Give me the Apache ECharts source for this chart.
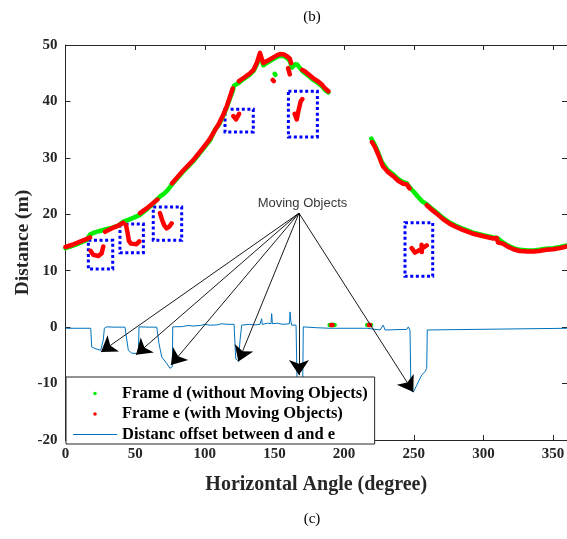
<!DOCTYPE html>
<html><head><meta charset="utf-8">
<script src="https://cdn.jsdelivr.net/npm/echarts@6/dist/echarts.min.js"></script>
<style>html,body{margin:0;padding:0;background:#fff}#c{width:567px;height:539px}</style>
</head><body><div id="c"></div>
<script>
// ---- data (angle in degrees, distance in m); null = gap ----
const frameDPoints = [[0,14.0],[5,14.4],[10,14.9],[15,15.4],[17.6,16.4],[20,16.7],[24,17.0],[28.4,17.3],[33,17.6],[38,18.0],[41.5,18.7],[45,19.0],[49,19.4],[53.5,19.9],[58,20.8],[63,21.9],[66,22.7],[68,23.2],[70,23.5],[73,24.2],[76.5,25.3],[80,26.3],[85,27.7],[91.7,29.4],[96,30.7],[101.4,32.4],[104,33.2],[107.3,35.0],[110,35.8],[113,37.3],[115.7,38.9],[118,40.5],[120,41.8],[121,42.8],[122,43.0],[124.5,43.3],[128,44.0],[132.5,44.8],[135,45.4],[137.3,46.5],[139.6,48.0],[141,47.2],[142,46.4],[145,46.9],[149.2,47.5],[152,47.9],[154,48.1],[157,48.0],[159,47.7],[161,47.2],[162.5,46.0],[163.5,45.8],[165,46.6],[166.5,46.5],[168,46.0],[170,45.4],[172,45.0],[175,44.4],[177.9,43.8],[181,43.3],[184,42.7],[186,42.1],[188.7,41.6],null,[189.6,0.4],[193.2,0.4],null,[216.6,0.4],[219.4,0.4],null,[150.2,44.9],[150.7,44.7],null,[219.5,33.4],[222,32.3],[224.5,30.9],[227,29.3],[229,28.6],[231,27.9],[233,27.5],[236,26.9],[239,26.2],[242.5,25.7],[245,25.5],[247,24.8],[250,24.0],[253,23.1],[256,22.3],[259.3,21.8],[262,21.2],[266,20.4],[271.2,19.3],[276,18.5],[280,18.0],[285.6,17.4],[292,16.8],[300,16.3],[307.1,15.9],[310,15.8],[314,15.0],[318,14.4],[321.5,14.0],[326,13.7],[332,13.6],[336,13.6],[340,13.7],[345,13.9],[350,14.0],[355,14.2],[360,14.5]];

const frameEPoints = [[0,14.2],[5,14.6],[10,15.1],[15,15.6],[17.6,15.9],null,[28.4,16.9],[33,17.5],[38,18.0],[41.5,18.5],null,[53.5,20.2],[58,21.0],[63,22.0],[66,22.6],null,[76.5,25.5],[80,26.5],[85,27.9],[91.7,29.6],[96,30.9],[101.4,32.6],[104,33.5],[107.3,34.9],[110,36.0],[113,37.5],[115.7,39.1],[118,40.8],[120,42.3],null,[124.5,43.6],[128,44.2],[132.5,45.0],[135,45.6],[137.3,46.8],[139.6,48.6],[141,47.5],[142,46.8],[145,47.2],[149.2,47.8],[152,48.2],[154,48.4],[157,48.3],[159,48.0],[161,47.6],[162,46.8],null,[170,45.6],[172,45.3],[175,44.7],[177.9,44.1],[181,43.6],[184,43.0],[186,42.4],[188.7,41.8],null,[220,32.8],[222,32.0],[224.5,30.6],[227,29.0],[228.2,28.4],[231,27.6],[233,27.2],[236,26.6],[239,25.9],[242.5,25.4],[245,25.3],[247,24.6],null,[259.3,21.6],[262,21.0],[266,20.2],[271.2,19.1],[276,18.3],[280,17.8],[285.6,17.2],[292,16.6],[300,16.1],[307.1,15.7],[309.5,15.8],[310.5,15.0],[314,14.8],[318,14.2],[321.5,13.8],[326,13.5],[332,13.4],[336,13.4],[340,13.5],[345,13.7],[350,13.8],[355,14.0],[360,14.3]];

const movingObjectPoints = [[18.1,13.5],[20,12.8],[23.6,12.6],[26,13.1],[27.1,14.3],null,[43.4,18.1],[44.5,16.8],[45.5,15.3],[47,14.8],[51,14.7],[53,15.2],null,[67.8,20.2],[69.5,18.9],[71,18.0],[72.6,17.5],[74.5,17.8],[76.2,18.4],null,[120.5,37.4],[122.4,36.8],[124.6,37.8],null,[164.5,37.8],[166,36.8],[167.2,38.3],[168.8,40.0],[170,40.4],null,[248.5,14.0],[250.9,13.2],[254.5,13.7],[256.9,14.1],[259.3,14.5],null,[255.6,14.6],[255.8,13.3],null,[159.8,45.9],[161,44.8],null,[148.8,43.8],[149.5,43.6],null,[190.8,0.4],[191.6,0.4],null,[217.8,0.4],[218.6,0.4]];

const offsetPoints = [[0,-0.2],[18.1,-0.2],[18.8,-3.5],[21.2,-3.8],[25.3,-4.1],[27.1,-2.3],[27.9,-0.2],[29.6,0.05],[35,0.0],[42.7,0],[45.1,-4.1],[47.5,-4.6],[52.3,-4.7],[52.8,0.05],[60,0.0],[65.5,0],[67.1,-2.9],[69.1,-5.3],[72.6,-6.4],[75.0,-7.3],[76.7,-7.0],[77.0,0.05],[84,0.1],[88,0.3],[91.7,0.2],[97,0.3],[100,0.5],[103.7,0.35],[109,0.4],[112,0.6],[115.7,0.5],[121,0.5],[122.2,-5.6],[124.1,-6.0],[125.3,-2.3],[126.5,0.35],[132,0.5],[136,0.4],[139.6,0.5],[140.8,1.5],[141.2,0.5],[145,0.7],[147.5,0.6],[148.0,2.4],[148.5,0.6],[152,0.7],[156,0.5],[160.8,0.6],[161.2,2.7],[161.8,1.0],[162.4,0.35],[165.5,0.35],[166.2,-9.4],[170.3,-9.4],[170.7,0.05],[180,-0.1],[189.9,-0.2],[216.2,-0.2],[225.8,-0.5],[228.1,0.35],[229.4,-0.5],[244.9,-0.4],[246.1,0.05],[247.3,-0.6],[248,-11.2],[249.7,-11.5],[252.1,-10.3],[254.5,-9.1],[255.7,-8.5],[258.1,-7.9],[259.3,-7.3],[259.7,-0.5],[260.4,-0.2],[360,-0.2]];

const movingBoxes = [[[16.4,15.4],[33.9,10.3]],[[39.1,18.3],[55.9,13.2]],[[63.0,21.3],[83.4,15.4]],[[114.5,38.6],[134.8,34.6]],[[160.0,41.8],[180.8,33.7]],[[243.7,18.5],[263.6,9.0]]];

const arrowSource = [167.6, 20.2];
const arrowTips = [[25.5,-4.4],[50.6,-4.9],[75.7,-6.7],[124.1,-6.1],[167.6,-8.5],[249.7,-11.5]];
const movingLabel = 'Moving Objects';
const movingLabelPos = [170.1, 22.0];

const seriesNames = ['Frame d (without Moving Objects)', 'Frame e (with Moving Objects)', 'Distanc offset between d and e'];
const xTickInfo = {min: 0, max: 360, interval: 50};
const yTickInfo = {min: -20, max: 50, interval: 10};

// ---- chart ----
const chart = echarts.init(document.getElementById('c'), null, {renderer: 'canvas'});
const toData = pts => pts.map(p => p ? p : ['-', '-']);
const serif = 'Liberation Serif';
const axisColor = '#262626';
const labelStyle = {fontFamily: serif, fontWeight: 'bold', fontSize: 15, color: '#262626'};
const nameStyle = {fontFamily: serif, fontWeight: 'bold', fontSize: 20, color: '#262626'};

const baseAxis = (extra) => Object.assign({
  type: 'value',
  nameMoveOverlap: false,
  axisLine: {show: true, onZero: false, lineStyle: {color: axisColor, width: 1}},
  axisTick: {show: true, inside: true, length: 5, lineStyle: {color: axisColor, width: 1}},
  splitLine: {show: false}
}, extra);

const option = {
  animation: false,
  backgroundColor: '#fff',
  grid: {left: 65.5, right: 0, top: 45, bottom: 99, containLabel: false, outerBoundsMode: 'none'},
  xAxis: [
    baseAxis(Object.assign({}, xTickInfo, {position: 'bottom', name: 'Horizontal Angle (degree)', nameLocation: 'middle', nameGap: 35, nameTextStyle: nameStyle,
      axisLabel: Object.assign({margin: 7, showMaxLabel: false}, labelStyle)})),
    baseAxis(Object.assign({}, xTickInfo, {position: 'top', axisLabel: {show: false}}))
  ],
  yAxis: [
    baseAxis(Object.assign({}, yTickInfo, {position: 'left', name: 'Distance (m)', nameLocation: 'middle', nameGap: 33, nameTextStyle: Object.assign({}, nameStyle, {fontSize: 19.5}),
      axisLabel: Object.assign({margin: 8}, labelStyle)})),
    baseAxis(Object.assign({}, yTickInfo, {position: 'right', axisLabel: {show: false}}))
  ],
  legend: {
    left: 66, top: 377, orient: 'vertical', selectedMode: false,
    itemWidth: 44, itemHeight: 3.5, itemGap: 3.5,
    padding: [8, 7, 1, 7],
    backgroundColor: '#fff', borderColor: axisColor, borderWidth: 1, borderRadius: 0,
    textStyle: {fontFamily: serif, fontWeight: 'bold', fontSize: 16.5, color: '#000', lineHeight: 16},
    data: [
      {name: seriesNames[0], icon: 'circle', itemStyle: {color: '#00ee00', borderWidth: 0}},
      {name: seriesNames[1], icon: 'circle', itemStyle: {color: '#ff0000', borderWidth: 0}},
      {name: seriesNames[2], icon: 'path://M0 0H440V12H0Z', itemStyle: {color: '#0072BD', borderWidth: 0}}
    ]
  },
  graphic: [
    {type: 'text', x: 312, y: 17, style: {text: '(b)', fontFamily: serif, fontSize: 15, fill: '#000', textAlign: 'center', textVerticalAlign: 'middle'}},
    {type: 'text', x: 312, y: 519, style: {text: '(c)', fontFamily: serif, fontSize: 15, fill: '#000', textAlign: 'center', textVerticalAlign: 'middle'}}
  ],
  series: [
    {name: seriesNames[2], type: 'line', data: toData(offsetPoints), symbol: 'none', showSymbol: false,
      color: '#0072BD', lineStyle: {color: '#0072BD', width: 1}, z: 2, silent: true},
    {name: seriesNames[0], type: 'line', data: toData(frameDPoints), symbol: 'none', showSymbol: false, connectNulls: false,
      color: '#00ee00', lineStyle: {color: '#00ee00', width: 4.5, cap: 'round', join: 'round'}, z: 3, silent: true},
    {name: seriesNames[1], type: 'line', data: toData(frameEPoints.concat([null], movingObjectPoints)), symbol: 'none', showSymbol: false, connectNulls: false,
      color: '#ff0000', lineStyle: {color: '#ff0000', width: 4.5, cap: 'round', join: 'round'}, z: 4, silent: true,
      markArea: {silent: true, label: {show: false},
        itemStyle: {color: 'rgba(0,0,0,0)', borderColor: '#0000ff', borderWidth: 3, borderType: [3, 2.6]},
        data: movingBoxes.map(b => [{coord: b[0]}, {coord: b[1]}])}},
    {type: 'lines', coordinateSystem: 'cartesian2d', xAxisIndex: 0, yAxisIndex: 0, silent: true, z: 5,
      symbol: ['none', 'arrow'], symbolSize: 15,
      lineStyle: {color: '#000', width: 0.9, opacity: 1, curveness: 0},
      data: arrowTips.map(t => ({coords: [arrowSource, t]}))},
    {type: 'scatter', data: [movingLabelPos], symbolSize: 1, silent: true, z: 6,
      itemStyle: {color: 'rgba(0,0,0,0)'},
      label: {show: true, position: 'inside', formatter: movingLabel, fontFamily: 'Liberation Sans', fontSize: 13, color: '#000'}}
  ]
};
chart.setOption(option);
</script>
</body></html>
